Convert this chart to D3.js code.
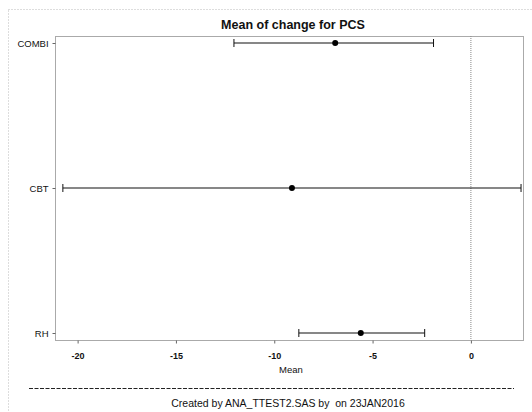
<!DOCTYPE html>
<html>
<head>
<meta charset="utf-8">
<script src="https://cdn.jsdelivr.net/npm/d3@7"></script>
<style>
  body { margin: 0; background: #fff; }
  text { font-family: "Liberation Sans", Arial, sans-serif; fill: #111; white-space: pre; }
</style>
</head>
<body>
<div id="chart"></div>
<script>
// groups, top to bottom
const groups = ['COMBI', 'CBT', 'RH'];
const means = [-6.9, -9.1, -5.6];
const lower = [-12.05, -20.75, -8.75];
const upper = [-1.9, 2.55, -2.35];
const xTicks = [-20, -15, -10, -5, 0];

const width = 532, height = 412;
const margin = { top: 36, right: 9, bottom: 72, left: 55 };
const innerW = width - margin.left - margin.right;
const innerH = height - margin.top - margin.bottom;

const svg = d3.select('#chart')
    .append('svg')
    .attr('width', width)
    .attr('height', height);

// outer page border (dotted)
svg.append('rect')
    .attr('x', 8.5).attr('y', 9.5)
    .attr('width', width - 4).attr('height', height)
    .attr('fill', 'none')
    .attr('stroke', '#bbb')
    .attr('stroke-dasharray', '1,2');

const g = svg.append('g').attr('transform', `translate(${margin.left},${margin.top})`);

const x = d3.scaleLinear().domain([-21.15, 2.65]).range([0, innerW]);
const y = d3.scalePoint().domain(groups).range([7, innerH - 7]);

// frame
g.append('rect')
    .attr('x', 0.5).attr('y', 0.5)
    .attr('width', innerW).attr('height', innerH)
    .attr('fill', 'none')
    .attr('stroke', '#555')
    .attr('stroke-dasharray', '1,1');

// reference line at 0
g.append('line')
    .attr('x1', x(0)).attr('x2', x(0))
    .attr('y1', 0).attr('y2', innerH)
    .attr('stroke', '#888')
    .attr('stroke-dasharray', '1,1');

// x axis
const xAxis = g.append('g')
    .attr('transform', `translate(0,${innerH + 0.5})`)
    .call(d3.axisBottom(x).tickValues(xTicks).tickSize(3).tickSizeOuter(0).tickFormat(d => String(d)));
xAxis.select('.domain').remove();
xAxis.selectAll('line').attr('stroke', '#666');
xAxis.selectAll('text').attr('font-size', 9).attr('dy', '1.35em').attr('font-weight', 'bold');

// y axis
const yAxis = g.append('g')
    .attr('transform', 'translate(0.5,0)')
    .call(d3.axisLeft(y).tickSize(3).tickSizeOuter(0));
yAxis.select('.domain').remove();
yAxis.selectAll('line').attr('stroke', '#666');
yAxis.selectAll('text').attr('font-size', 9.5).attr('dx', '-0.1em');

// error bars
const bars = g.selectAll('.bar')
    .data(groups)
    .join('g')
    .attr('class', 'bar');

bars.append('line')
    .attr('x1', (d, i) => x(lower[i]))
    .attr('x2', (d, i) => x(upper[i]))
    .attr('y1', d => y(d)).attr('y2', d => y(d))
    .attr('stroke', '#111').attr('stroke-width', 1.1);

bars.append('line')
    .attr('x1', (d, i) => x(lower[i])).attr('x2', (d, i) => x(lower[i]))
    .attr('y1', d => y(d) - 4).attr('y2', d => y(d) + 4)
    .attr('stroke', '#111');

bars.append('line')
    .attr('x1', (d, i) => x(upper[i])).attr('x2', (d, i) => x(upper[i]))
    .attr('y1', d => y(d) - 4).attr('y2', d => y(d) + 4)
    .attr('stroke', '#111');

bars.append('circle')
    .attr('cx', (d, i) => x(means[i]))
    .attr('cy', d => y(d))
    .attr('r', 3)
    .attr('fill', '#000');

// title
svg.append('text')
    .attr('x', 293)
    .attr('y', 29)
    .attr('text-anchor', 'middle')
    .attr('font-size', 12.5)
    .attr('font-weight', 'bold')
    .text('Mean of change for PCS');

// axis label
svg.append('text')
    .attr('x', 291)
    .attr('y', 373)
    .attr('text-anchor', 'middle')
    .attr('font-size', 9.5)
    .text('Mean');

// footnote rule and text
svg.append('line')
    .attr('x1', 29).attr('x2', 514)
    .attr('y1', 388.5).attr('y2', 388.5)
    .attr('stroke', '#222')
    .attr('stroke-dasharray', '4,1.5');

svg.append('text')
    .attr('x', 288)
    .attr('y', 407)
    .attr('text-anchor', 'middle')
    .attr('font-size', 10.5)
    .text('Created by ANA_TTEST2.SAS by  on 23JAN2016');
</script>
</body>
</html>
